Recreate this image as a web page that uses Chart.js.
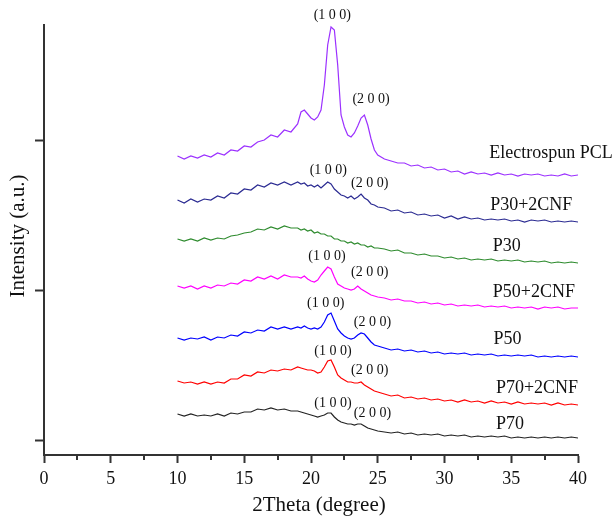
<!DOCTYPE html>
<html>
<head>
<meta charset="utf-8">
<title>XRD patterns</title>
<script src="https://cdn.jsdelivr.net/npm/chart.js@4/dist/chart.umd.min.js"></script>
<style>
    html, body { margin: 0; padding: 0; background: #fff; }
    #wrap { width: 615px; height: 519px; }
</style>
</head>
<body>
<div id="wrap"><canvas id="xrdChart" width="615" height="519"></canvas></div>
<script>
// 2Theta sampling positions (degree)
const twoTheta = [10, 10.5, 11, 11.5, 12, 12.5, 13, 13.5, 14, 14.5, 15, 15.5, 16, 16.5, 17, 17.5, 18, 18.5, 19,
    19.25, 19.5, 19.75, 20, 20.25, 20.5, 20.75, 21, 21.25, 21.5, 21.75, 22, 22.25, 22.5, 22.75, 23, 23.25, 23.5, 23.75, 24, 24.25, 24.5, 24.75, 25,
    25.5, 26, 26.5, 27, 27.5, 28, 28.5, 29, 29.5, 30, 30.5, 31, 31.5, 32, 32.5, 33, 33.5, 34, 34.5, 35, 35.5, 36, 36.5, 37, 37.5, 38, 38.5, 39, 39.5, 40];

// intensities (a.u., stacked with offsets as in the figure)
const pcl = [299, 296, 299, 297, 300, 298, 302, 300, 305, 304, 309, 308, 313, 315, 320, 318, 325, 323, 331,
    343, 345, 341, 337, 335, 338, 345, 370, 410, 428, 425, 390, 340, 328, 320, 318, 322, 329, 337, 340, 330, 316, 305, 300,
    296, 294, 292, 292, 289, 290, 287, 288, 285, 286, 283, 284, 281, 283, 281, 282, 280, 282, 280, 281, 279, 281, 280, 281, 279, 280, 279, 281, 279, 280];
const p30cnf = [255, 252, 256, 253, 256, 255, 259, 257, 262, 261, 266, 265, 270, 268, 272, 270, 273, 270, 273,
    271, 272, 269, 270, 268, 270, 267, 270, 273, 271, 266, 263, 260, 259, 257, 259, 256, 258, 261, 257, 255, 251, 250, 248,
    247, 244, 245, 242, 243, 240, 241, 239, 240, 237, 239, 236, 238, 236, 237, 235, 236, 235, 236, 234, 235, 233, 235, 234, 235, 233, 234, 233, 234, 233];
const p30 = [216, 214, 216, 214, 217, 215, 217, 216, 219, 220, 222, 223, 226, 225, 228, 226, 229, 227, 227,
    225, 226, 224, 225, 222, 223, 221, 221, 219, 219, 216, 216, 214, 214, 212, 213, 211, 212, 210, 210, 208, 209, 207, 207,
    206, 204, 205, 202, 202, 200, 201, 199, 199, 197, 198, 196, 197, 195, 196, 195, 196, 194, 195, 194, 195, 193, 194, 193, 194, 192, 193, 192, 193, 192];
const p50cnf = [169, 167, 169, 166, 169, 167, 170, 169, 172, 171, 175, 174, 178, 176, 179, 176, 180, 178, 178,
    177, 179, 176, 174, 173, 175, 180, 184, 188, 186, 178, 171, 169, 167, 166, 165, 166, 169, 166, 164, 162, 160, 159, 158,
    157, 155, 156, 154, 154, 152, 153, 151, 152, 150, 151, 149, 150, 149, 150, 148, 149, 148, 149, 147, 148, 147, 148, 146, 148, 147, 148, 146, 147, 147];
const p50 = [117, 115, 117, 116, 118, 115, 118, 117, 120, 119, 123, 122, 125, 124, 128, 126, 128, 126, 128,
    127, 129, 127, 126, 127, 126, 128, 133, 140, 142, 134, 126, 122, 119, 117, 116, 117, 120, 122, 121, 117, 113, 110, 109,
    107, 105, 106, 104, 105, 103, 104, 102, 103, 101, 102, 101, 102, 100, 101, 100, 101, 99, 100, 99, 100, 99, 100, 98, 99, 98, 99, 98, 99, 98];
const p70cnf = [74, 72, 73, 71, 73, 71, 73, 72, 76, 76, 80, 79, 83, 82, 85, 84, 86, 85, 88,
    87, 86, 85, 85, 84, 82, 83, 88, 94, 95, 88, 80, 77, 75, 73, 73, 72, 72, 73, 70, 68, 66, 64, 63,
    61, 59, 60, 57, 58, 56, 57, 55, 56, 54, 55, 53, 55, 53, 54, 52, 54, 52, 53, 51, 53, 51, 52, 51, 52, 50, 52, 50, 51, 50];
const p70 = [41, 39, 41, 39, 40, 39, 41, 39, 42, 41, 43, 43, 46, 45, 47, 45, 46, 44, 44,
    43, 42, 41, 40, 39, 38, 39, 40, 42, 42, 38, 35, 33, 32, 31, 31, 30, 31, 31, 29, 27, 26, 25, 24,
    23, 22, 23, 21, 22, 20, 21, 20, 21, 19, 20, 19, 20, 18, 19, 18, 19, 18, 19, 17, 18, 17, 18, 17, 18, 17, 18, 17, 18, 17];

const sampleNames = ['Electrospun PCL', 'P30+2CNF', 'P30', 'P50+2CNF', 'P50', 'P70+2CNF', 'P70'];
const sampleColors = ['#9b30ff', '#2b2b92', '#2e8b2e', '#ff00ff', '#0000ff', '#ff0000', '#222222'];

// x tick labels
const xTickValues = [0, 5, 10, 15, 20, 25, 30, 35, 40];
const xMinorTicks = [2.5, 7.5, 12.5, 17.5, 22.5, 27.5, 32.5, 37.5];
const yTickValues = [15, 165, 315];

// where the curve names and Miller indices sit (data coords)
const nameAnchors = [[33.35, 302], [33.42, 250], [33.62, 209], [33.62, 163], [33.67, 116], [33.85, 67], [33.85, 31]];
const peak100 = [[21.6, 440], [21.3, 285], null, [21.2, 199], [21.1, 152], [21.65, 104], [21.65, 52]];
const peak200 = [[24.5, 356], [24.4, 272], null, [24.4, 183], [24.6, 133], [24.4, 85], [24.6, 42]];

const seriesList = [pcl, p30cnf, p30, p50cnf, p50, p70cnf, p70];
const axisColor = '#333';
const serif = '"Liberation Serif", "DejaVu Serif", serif';

const datasets = seriesList.map((vals, i) => ({
    label: sampleNames[i],
    data: vals.map((v, k) => ({ x: twoTheta[k], y: v })),
    borderColor: sampleColors[i],
    borderWidth: 1.2,
    pointRadius: 0,
    tension: 0,
    fill: false
}));

// text + minor ticks drawn on top of the chart
const extrasPlugin = {
    id: 'xrdExtras',
    afterDraw(chart) {
        const ctx = chart.ctx;
        const xs = chart.scales.x, ys = chart.scales.y;
        const area = chart.chartArea;
        ctx.save();

        // minor ticks on x axis
        ctx.strokeStyle = axisColor;
        ctx.lineWidth = 2;
        xMinorTicks.forEach(v => {
            const px = Math.round(xs.getPixelForValue(v));
            ctx.beginPath();
            ctx.moveTo(px, area.bottom);
            ctx.lineTo(px, area.bottom + 5);
            ctx.stroke();
        });

        // curve names
        ctx.fillStyle = '#111';
        ctx.font = '18px ' + serif;
        ctx.textAlign = 'left';
        ctx.textBaseline = 'middle';
        nameAnchors.forEach((p, i) => {
            ctx.fillText(sampleNames[i], xs.getPixelForValue(p[0]), ys.getPixelForValue(p[1]));
        });

        // Miller indices
        ctx.font = '14px ' + serif;
        ctx.textAlign = 'center';
        peak100.forEach(p => {
            if (p) ctx.fillText('(1 0 0)', xs.getPixelForValue(p[0]), ys.getPixelForValue(p[1]));
        });
        peak200.forEach(p => {
            if (p) ctx.fillText('(2 0 0)', xs.getPixelForValue(p[0]), ys.getPixelForValue(p[1]));
        });

        // axis titles
        ctx.font = '21px ' + serif;
        ctx.fillText('2Theta (degree)', 319, 505);
        ctx.translate(18, 236);
        ctx.rotate(-Math.PI / 2);
        ctx.fillText('Intensity (a.u.)', 0, 0);
        ctx.restore();
    }
};

new Chart(document.getElementById('xrdChart'), {
    type: 'line',
    data: { datasets: datasets },
    options: {
        responsive: false,
        animation: false,
        devicePixelRatio: 1,
        layout: { padding: { top: 25, right: 37, left: 0, bottom: 0 } },
        plugins: { legend: { display: false }, tooltip: { enabled: false } },
        scales: {
            x: {
                type: 'linear',
                min: 0,
                max: 40,
                afterFit: s => { s.height = 64; },
                afterBuildTicks: s => { s.ticks = xTickValues.map(v => ({ value: v })); },
                border: { color: axisColor, width: 2 },
                grid: { drawOnChartArea: false, drawTicks: true, tickLength: 8, tickWidth: 2, tickColor: axisColor },
                ticks: { color: '#111', font: { family: serif, size: 18 }, padding: 5, maxRotation: 0 }
            },
            y: {
                type: 'linear',
                min: 0,
                max: 430,
                afterFit: s => { s.width = 44; },
                afterBuildTicks: s => { s.ticks = yTickValues.map(v => ({ value: v })); },
                border: { color: axisColor, width: 2 },
                grid: { drawOnChartArea: false, drawTicks: true, tickLength: 9, tickWidth: 2, tickColor: axisColor },
                ticks: { display: false }
            }
        }
    },
    plugins: [extrasPlugin]
});
</script>
</body>
</html>
